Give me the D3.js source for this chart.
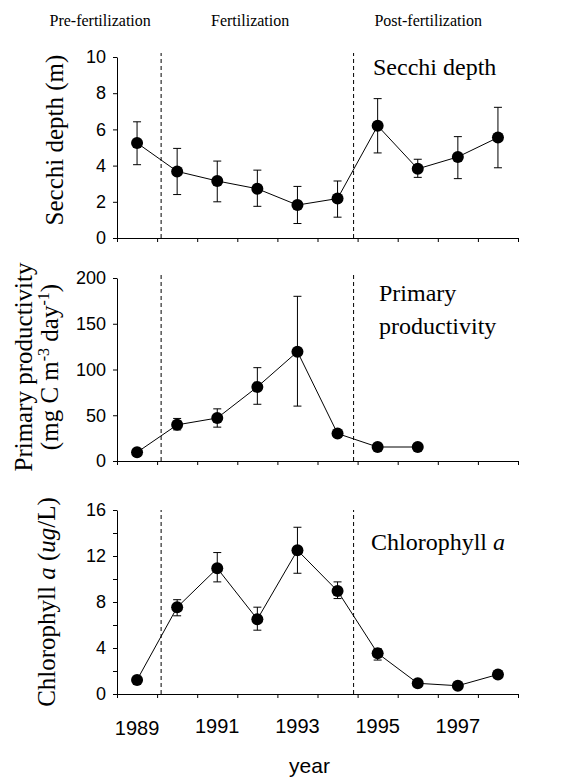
<!DOCTYPE html>
<html>
<head>
<meta charset="utf-8">
<script src="https://cdn.jsdelivr.net/npm/d3@7"></script>
<style>
  body { margin: 0; background: #fff; }
</style>
</head>
<body>
<svg id="chart" width="574" height="781"></svg>
<script>
// data
var years = [1989, 1990, 1991, 1992, 1993, 1994, 1995, 1996, 1997, 1998];
var yearLabels = [1989, 1991, 1993, 1995, 1997];
var phaseBreaks = [1989.6, 1994.4];
var phaseNames = ['Pre-fertilization', 'Fertilization', 'Post-fertilization'];
var phaseCenters = [1988.08, 1991.82, 1996.26];

var secchi   = [5.25, 3.68, 3.15, 2.72, 1.82, 2.18, 6.2, 3.82, 4.48, 5.55];
var secchiLo = [4.05, 2.4, 2.0, 1.75, 0.8, 1.15, 4.7, 3.35, 3.28, 3.88];
var secchiHi = [6.42, 4.95, 4.25, 3.75, 2.85, 3.15, 7.7, 4.35, 5.6, 7.22];

var prod   = [9.5, 39.5, 47, 81, 119.5, 30, 15.3, 15.3];
var prodLo = [null, 34, 37, 62, 60, null, null, null];
var prodHi = [null, 46.5, 57, 102, 180, null, null, null];

var chl   = [1.22, 7.54, 10.93, 6.5, 12.5, 8.96, 3.54, 0.93, 0.72, 1.7];
var chlLo = [null, 6.8, 9.75, 5.55, 10.5, 8.3, 2.95, null, null, null];
var chlHi = [null, 8.2, 12.3, 7.55, 14.5, 9.75, 3.95, null, null, null];

var svg = d3.select('#chart');
var serif = '"Liberation Serif", "Times New Roman", serif';
var sans = '"Liberation Sans", Arial, sans-serif';

var x = d3.scaleLinear().domain([1988.5, 1998.5]).range([117, 518]);
var bounds = d3.range(1988.5, 1999, 1);

function panel(opts){
    var y = d3.scaleLinear().domain([0, opts.max]).range(opts.range);
    var g = svg.append('g');

    // phase separators
    phaseBreaks.forEach(function(b){
        g.append('line')
            .attr('x1', x(b)).attr('x2', x(b))
            .attr('y1', y(0)).attr('y2', y(opts.max) - opts.dashTop)
            .attr('stroke', '#000').attr('stroke-width', 1)
            .attr('stroke-dasharray', '4,3');
    });

    var ya = d3.axisLeft(y).tickValues(opts.ticks).tickSize(4).tickSizeOuter(0).tickPadding(7)
        .tickFormat(function(d){ return opts.labels.indexOf(d) >= 0 ? d : ''; });
    var yg = g.append('g').attr('transform', 'translate(' + x.range()[0] + ',0)').call(ya);
    yg.attr('font-family', sans).attr('font-size', 18);
    yg.selectAll('text').attr('fill', '#000');
    yg.selectAll('line,path').attr('stroke', '#000');

    var xa = d3.axisBottom(x).tickValues(bounds).tickSize(4).tickSizeOuter(0).tickFormat('');
    var xg = g.append('g').attr('transform', 'translate(0,' + y(0) + ')').call(xa);
    xg.selectAll('line,path').attr('stroke', '#000');

    var pts = opts.values.map(function(v, i){
        return {yr: years[i], v: v, lo: opts.lo[i], hi: opts.hi[i]};
    });

    // error bars
    pts.filter(function(d){ return d.lo != null; }).forEach(function(d){
        var cx = x(d.yr);
        g.append('line').attr('x1', cx).attr('x2', cx).attr('y1', y(d.lo)).attr('y2', y(d.hi))
            .attr('stroke', '#000').attr('stroke-width', 1);
        [d.lo, d.hi].forEach(function(e){
            g.append('line').attr('x1', cx - 4).attr('x2', cx + 4).attr('y1', y(e)).attr('y2', y(e))
                .attr('stroke', '#000').attr('stroke-width', 1);
        });
    });

    g.append('path').datum(pts)
        .attr('d', d3.line().x(function(d){ return x(d.yr); }).y(function(d){ return y(d.v); }))
        .attr('fill', 'none').attr('stroke', '#000').attr('stroke-width', 1);

    g.selectAll('circle.pt').data(pts).enter().append('circle')
        .attr('class', 'pt')
        .attr('cx', function(d){ return x(d.yr); })
        .attr('cy', function(d){ return y(d.v); })
        .attr('r', 6).attr('fill', '#000');

    return {g: g, y: y};
}

var p1 = panel({max: 10, range: [238, 57], ticks: [0, 2, 4, 6, 8, 10], labels: [0, 2, 4, 6, 8, 10],
    values: secchi, lo: secchiLo, hi: secchiHi, dashTop: 4});
var p2 = panel({max: 200, range: [461, 278], ticks: [0, 50, 100, 150, 200], labels: [0, 50, 100, 150, 200],
    values: prod, lo: prodLo, hi: prodHi, dashTop: 5});
var p3 = panel({max: 16, range: [694, 510], ticks: [0, 2, 4, 6, 8, 10, 12, 14, 16], labels: [0, 4, 8, 12, 16],
    values: chl, lo: chlLo, hi: chlHi, dashTop: 0});

// phase names along the top
phaseNames.forEach(function(n, i){
    svg.append('text').attr('x', x(phaseCenters[i])).attr('y', 26)
        .attr('text-anchor', 'middle').attr('font-family', serif).attr('font-size', 16)
        .text(n);
});

// panel titles
svg.append('text').attr('x', 373).attr('y', 75).attr('font-family', serif).attr('font-size', 24)
    .text('Secchi depth');
svg.append('text').attr('x', 379).attr('y', 301).attr('font-family', serif).attr('font-size', 24)
    .text('Primary');
svg.append('text').attr('x', 379).attr('y', 334).attr('font-family', serif).attr('font-size', 24)
    .text('productivity');
var ct = svg.append('text').attr('x', 371).attr('y', 550).attr('font-family', serif).attr('font-size', 24);
ct.append('tspan').text('Chlorophyll ');
ct.append('tspan').attr('font-style', 'italic').text('a');

// y axis titles
svg.append('text').attr('transform', 'translate(63,140) rotate(-90)')
    .attr('text-anchor', 'middle').attr('font-family', serif).attr('font-size', 25)
    .text('Secchi depth (m)');

svg.append('text').attr('transform', 'translate(32,367) rotate(-90)')
    .attr('text-anchor', 'middle').attr('font-family', serif).attr('font-size', 25)
    .text('Primary productivity');
var pu = svg.append('text').attr('transform', 'translate(58,367) rotate(-90)')
    .attr('text-anchor', 'middle').attr('font-family', serif).attr('font-size', 25);
pu.append('tspan').text('(mg C m');
pu.append('tspan').attr('dy', -9).attr('font-size', 16).text('-3');
pu.append('tspan').attr('dy', 9).text(' day');
pu.append('tspan').attr('dy', -9).attr('font-size', 16).text('-1');
pu.append('tspan').attr('dy', 9).text(')');

var cu = svg.append('text').attr('transform', 'translate(55,602) rotate(-90)')
    .attr('text-anchor', 'middle').attr('font-family', serif).attr('font-size', 25);
cu.append('tspan').text('Chlorophyll ');
cu.append('tspan').attr('font-style', 'italic').text('a');
cu.append('tspan').text(' (');
cu.append('tspan').attr('font-style', 'italic').text('ug');
cu.append('tspan').text('/L)');

// year labels on the bottom panel
svg.selectAll('text.yr').data(yearLabels).enter().append('text')
    .attr('class', 'yr')
    .attr('x', function(d){ return x(d); })
    .attr('y', function(d, i){ return i == 0 ? 735 : 733; })
    .attr('text-anchor', 'middle').attr('font-family', sans).attr('font-size', 20)
    .text(function(d){ return d; });

svg.append('text').attr('x', x(1993.3)).attr('y', 773)
    .attr('text-anchor', 'middle').attr('font-family', sans).attr('font-size', 21)
    .text('year');
</script>
</body>
</html>
